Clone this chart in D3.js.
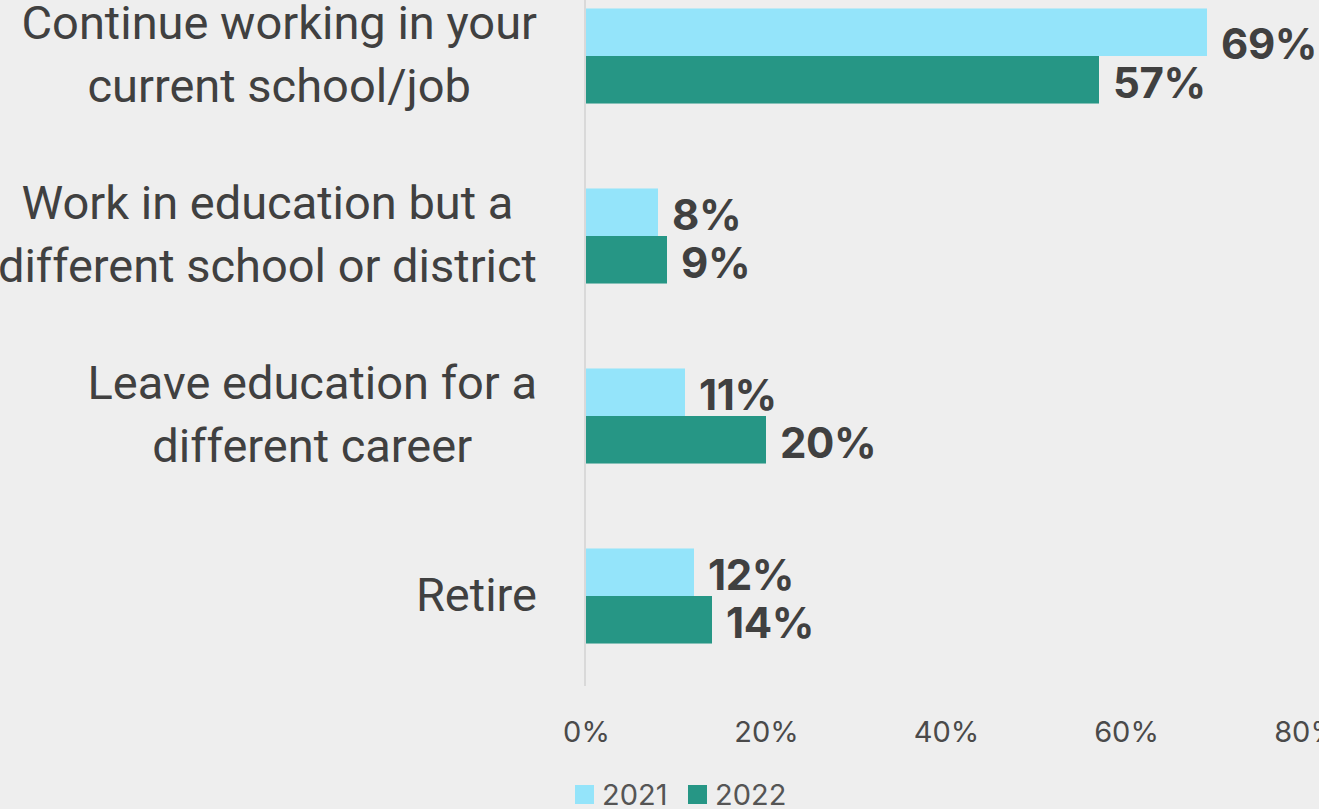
<!DOCTYPE html>
<html>
<head>
<meta charset="utf-8">
<script src="https://cdn.jsdelivr.net/npm/d3@7"></script>
<style>
  html, body { margin: 0; padding: 0; background: #eeeeee; overflow: hidden; }
  svg { display: block; }
  text { font-family: Roboto, "Noto Sans", sans-serif; fill: #404040; }
</style>
</head>
<body>
<svg id="chart" width="1319" height="809"></svg>
<script>
// Survey answers: plans for next year, by year of response
const categories = [
  "Continue working in your current school/job",
  "Work in education but a different school or district",
  "Leave education for a different career",
  "Retire"
];
// wrapped label lines for each category
const categoryLines = [
  ["Continue working in your", "current school/job"],
  ["Work in education but a", "different school or district"],
  ["Leave education for a", "different career"],
  ["Retire"]
];
const seriesNames = ["2021", "2022"];
const values2021 = [0.69, 0.08, 0.11, 0.12];
const values2022 = [0.57, 0.09, 0.20, 0.14];
const xTicks = [0, 0.2, 0.4, 0.6, 0.8];
const seriesColors = ["#94e4fa", "#269685"];

const svg = d3.select("#chart");
const W = 1319, H = 809;
const pct = d3.format(".0%");

const x = d3.scaleLinear().domain([0, 0.8]).range([586, 1306]);
const y = d3.scaleBand().domain(categories).range([-34, 686])
  .paddingInner(0.472).paddingOuter(0.236);
const ySub = d3.scaleBand().domain(seriesNames).range([0, y.bandwidth()]);
const color = d3.scaleOrdinal().domain(seriesNames).range(seriesColors);

const rows = categories.map((c, i) => ({
  category: c,
  lines: categoryLines[i],
  values: [
    { series: "2021", value: values2021[i] },
    { series: "2022", value: values2022[i] }
  ]
}));

// vertical category axis line
svg.append("line")
  .attr("x1", x(0) - 1).attr("x2", x(0) - 1)
  .attr("y1", y.range()[0]).attr("y2", y.range()[1])
  .attr("stroke", "#d9d9d9").attr("stroke-width", 2);

// bars
const groups = svg.append("g").selectAll("g")
  .data(rows).join("g")
  .attr("transform", d => `translate(0,${y(d.category)})`);

groups.selectAll("rect")
  .data(d => d.values).join("rect")
  .attr("x", x(0))
  .attr("y", d => ySub(d.series))
  .attr("width", d => x(d.value) - x(0))
  .attr("height", ySub.bandwidth())
  .attr("fill", d => color(d.series));

// value labels; a label running past the plot area drops a little lower
const plotRight = x.range()[1];
groups.selectAll("text.value")
  .data(d => d.values).join("text")
  .attr("class", "value")
  .attr("x", d => x(d.value) + 14)
  .attr("y", d => ySub(d.series) + ySub.bandwidth() / 2 + 18)
  .style("font-family", "Inter, sans-serif")
  .style("font-size", "42px")
  .style("font-weight", 700)
  .style("letter-spacing", "-0.4px")
  .text(d => pct(d.value))
  .each(function(d) {
    const right = x(d.value) + 14 + this.getComputedTextLength();
    if (right > plotRight) {
      d3.select(this).attr("y", ySub(d.series) + ySub.bandwidth() / 2 + 27);
    }
  });

// category labels: lines centred on each other, block right-aligned
const labelRight = 537;
const lineGap = 63;
const labels = svg.append("g").selectAll("g")
  .data(rows).join("g");
labels.each(function(d) {
  const g = d3.select(this);
  const cy = y(d.category) + y.bandwidth() / 2 + 14.5;
  const n = d.lines.length;
  const texts = g.selectAll("text").data(d.lines).join("text")
    .style("font-size", "47px")
    .attr("text-anchor", "middle")
    .attr("y", (l, i) => cy + (i - (n - 1) / 2) * lineGap)
    .text(l => l);
  let maxW = 0;
  texts.each(function() { maxW = Math.max(maxW, this.getComputedTextLength()); });
  texts.attr("x", labelRight - maxW / 2);
});

// value axis tick labels
const xAxis = d3.axisBottom(x).tickValues(xTicks).tickSize(0).tickFormat(pct);
const axisG = svg.append("g").call(xAxis);
axisG.select(".domain").remove();
axisG.selectAll("text")
  .attr("y", 742).attr("dy", null)
  .attr("fill", null)
  .style("font-family", "Inter, sans-serif")
  .style("font-size", "29px")
  .style("fill", "#4a4a4a");

// legend
const legend = svg.append("g").selectAll("g")
  .data(seriesNames).join("g")
  .attr("transform", (d, i) => `translate(${575 + i * 113},785)`);
legend.append("rect").attr("width", 19).attr("height", 19).attr("fill", d => color(d));
legend.append("text").attr("x", 27).attr("y", 20)
  .style("font-family", "Inter, sans-serif")
  .style("font-size", "29px")
  .style("fill", "#555555")
  .text(d => d);
</script>
</body>
</html>
